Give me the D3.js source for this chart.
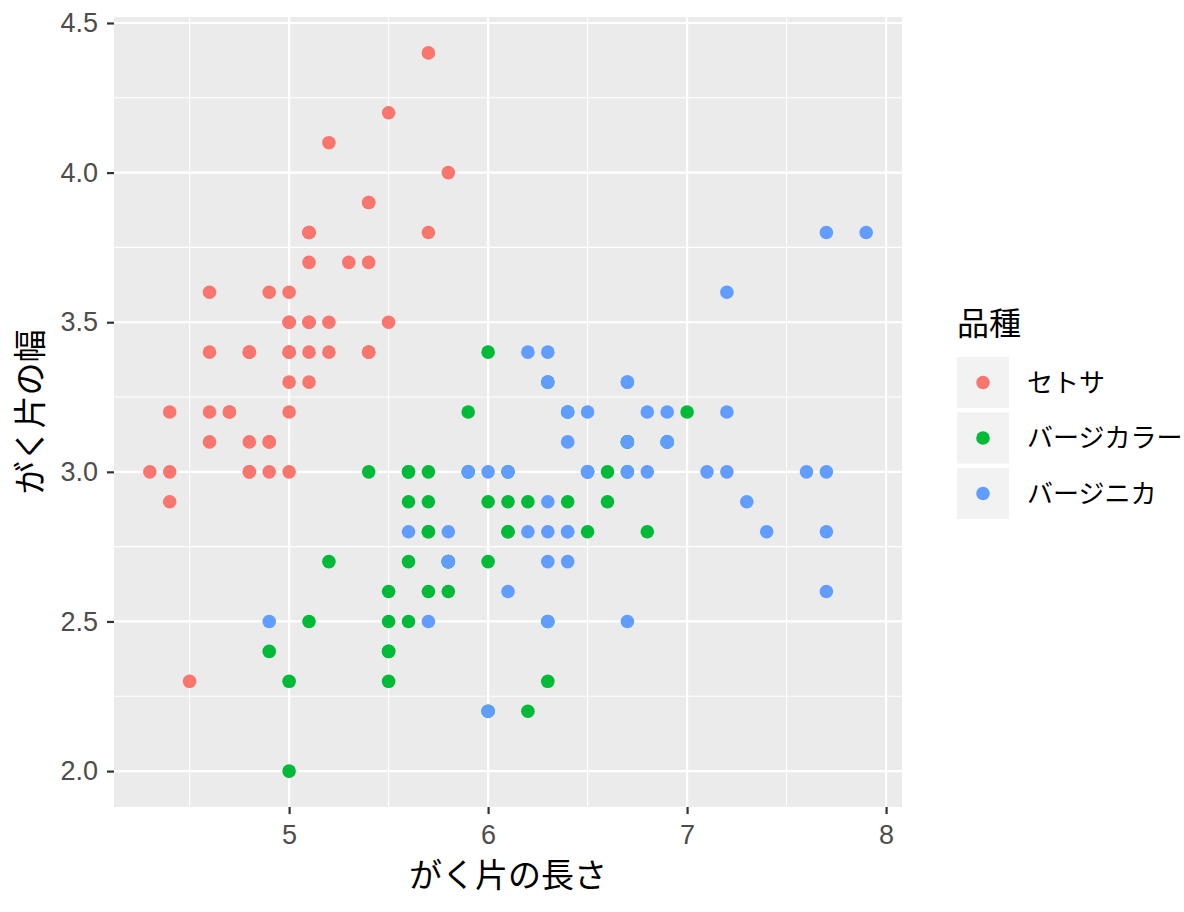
<!DOCTYPE html>
<html>
<head>
<meta charset="utf-8">
<script src="https://cdn.jsdelivr.net/npm/d3@7"></script>
<style>
  body { margin: 0; background: #fff; }
  svg { display: block; font-family: "Liberation Sans", "Noto Sans CJK JP", sans-serif; }
</style>
</head>
<body>
<div id="chart"></div>
<script>
// iris: sepal length / sepal width per species
const species = ["セトサ", "バージカラー", "バージニカ"]
const colors = ["#F8766D", "#00BA38", "#619CFF"]

const setosaLen = [5.1,4.9,4.7,4.6,5.0,5.4,4.6,5.0,4.4,4.9,5.4,4.8,4.8,4.3,5.8,5.7,5.4,5.1,5.7,5.1,5.4,5.1,4.6,5.1,4.8,5.0,5.0,5.2,5.2,4.7,4.8,5.4,5.2,5.5,4.9,5.0,5.5,4.9,4.4,5.1,5.0,4.5,4.4,5.0,5.1,4.8,5.1,4.6,5.3,5.0]
const setosaWid = [3.5,3.0,3.2,3.1,3.6,3.9,3.4,3.4,2.9,3.1,3.7,3.4,3.0,3.0,4.0,4.4,3.9,3.5,3.8,3.8,3.4,3.7,3.6,3.3,3.4,3.0,3.4,3.5,3.4,3.2,3.1,3.4,4.1,4.2,3.1,3.2,3.5,3.6,3.0,3.4,3.5,2.3,3.2,3.5,3.8,3.0,3.8,3.2,3.7,3.3]
const versiLen = [7.0,6.4,6.9,5.5,6.5,5.7,6.3,4.9,6.6,5.2,5.0,5.9,6.0,6.1,5.6,6.7,5.6,5.8,6.2,5.6,5.9,6.1,6.3,6.1,6.4,6.6,6.8,6.7,6.0,5.7,5.5,5.5,5.8,6.0,5.4,6.0,6.7,6.3,5.6,5.5,5.5,6.1,5.8,5.0,5.6,5.7,5.7,6.2,5.1,5.7]
const versiWid = [3.2,3.2,3.1,2.3,2.8,2.8,3.3,2.4,2.9,2.7,2.0,3.0,2.2,2.9,2.9,3.1,3.0,2.7,2.2,2.5,3.2,2.8,2.5,2.8,2.9,3.0,2.8,3.0,2.9,2.6,2.4,2.4,2.7,2.7,3.0,3.4,3.1,2.3,3.0,2.5,2.6,3.0,2.6,2.3,2.7,3.0,2.9,2.9,2.5,2.8]
const virgLen = [6.3,5.8,7.1,6.3,6.5,7.6,4.9,7.3,6.7,7.2,6.5,6.4,6.8,5.7,5.8,6.4,6.5,7.7,7.7,6.0,6.9,5.6,7.7,6.3,6.7,7.2,6.2,6.1,6.4,7.2,7.4,7.9,6.4,6.3,6.1,7.7,6.3,6.4,6.0,6.9,6.7,6.9,5.8,6.8,6.7,6.7,6.3,6.5,6.2,5.9]
const virgWid = [3.3,2.7,3.0,2.9,3.0,3.0,2.5,2.9,2.5,3.6,3.2,2.7,3.0,2.5,2.8,3.2,3.0,3.8,2.6,2.2,3.2,2.8,2.8,2.7,3.3,3.2,2.8,3.0,2.8,3.0,2.8,3.8,2.8,2.8,2.6,3.0,3.4,3.1,3.0,3.1,3.1,3.1,2.7,3.2,3.3,3.0,2.5,3.0,3.4,3.0]

const xTicks = [5, 6, 7, 8]
const yTicks = [2.0, 2.5, 3.0, 3.5, 4.0, 4.5]
const xMinor = [4.5, 5.5, 6.5, 7.5]
const yMinor = [2.25, 2.75, 3.25, 3.75, 4.25]

const W = 1184, H = 912
const panel = {left: 114, right: 902, top: 17, bottom: 807}

const rows = []
;[[setosaLen, setosaWid], [versiLen, versiWid], [virgLen, virgWid]].forEach(([len, wid], s) => {
  len.forEach((v, i) => rows.push({x: v, y: wid[i], s}))
})

const xExt = d3.extent(rows, d => d.x), yExt = d3.extent(rows, d => d.y)
const xPad = (xExt[1] - xExt[0]) * 0.05, yPad = (yExt[1] - yExt[0]) * 0.05
const x = d3.scaleLinear().domain([xExt[0] - xPad, xExt[1] + xPad]).range([panel.left, panel.right])
const y = d3.scaleLinear().domain([yExt[0] - yPad, yExt[1] + yPad]).range([panel.bottom, panel.top])
const color = d3.scaleOrdinal(d3.range(3), colors)

const svg = d3.select("#chart").append("svg").attr("width", W).attr("height", H)

svg.append("rect")
    .attr("x", panel.left).attr("y", panel.top)
    .attr("width", panel.right - panel.left).attr("height", panel.bottom - panel.top)
    .attr("fill", "#EBEBEB")

const grid = svg.append("g").attr("stroke", "#fff")
grid.selectAll("line.xmin").data(xMinor).join("line")
    .attr("x1", d => x(d)).attr("x2", d => x(d)).attr("y1", panel.top).attr("y2", panel.bottom)
    .attr("stroke-width", 1.1)
grid.selectAll("line.ymin").data(yMinor).join("line")
    .attr("y1", d => y(d)).attr("y2", d => y(d)).attr("x1", panel.left).attr("x2", panel.right)
    .attr("stroke-width", 1.1)
grid.selectAll("line.xmaj").data(xTicks).join("line")
    .attr("x1", d => x(d)).attr("x2", d => x(d)).attr("y1", panel.top).attr("y2", panel.bottom)
    .attr("stroke-width", 2.2)
grid.selectAll("line.ymaj").data(yTicks).join("line")
    .attr("y1", d => y(d)).attr("y2", d => y(d)).attr("x1", panel.left).attr("x2", panel.right)
    .attr("stroke-width", 2.2)

svg.append("g")
  .selectAll("circle")
  .data(rows)
  .join("circle")
    .attr("cx", d => x(d.x))
    .attr("cy", d => y(d.y))
    .attr("r", 6.8)
    .attr("fill", d => color(d.s))

// axes
const xAxis = svg.append("g")
    .attr("transform", `translate(0,${panel.bottom})`)
    .call(d3.axisBottom(x).tickValues(xTicks).tickFormat(d3.format("d")).tickSize(7).tickPadding(11))
const yAxis = svg.append("g")
    .attr("transform", `translate(${panel.left},0)`)
    .call(d3.axisLeft(y).tickValues(yTicks).tickFormat(d3.format(".1f")).tickSize(7).tickPadding(9))
;[xAxis, yAxis].forEach(g => {
  g.attr("font-size", 27).attr("font-family", "Liberation Sans, sans-serif")
  g.select(".domain").remove()
  g.selectAll(".tick line").attr("stroke", "#333").attr("stroke-width", 2.2)
  g.selectAll(".tick text").attr("fill", "#4D4D4D")
})

svg.append("text")
    .attr("x", (panel.left + panel.right) / 2).attr("y", 887)
    .attr("text-anchor", "middle")
    .attr("font-family", "Noto Sans CJK JP")
    .attr("font-size", 33)
    .text("がく片の長さ")

svg.append("text")
    .attr("transform", `translate(42,${(panel.top + panel.bottom) / 2}) rotate(-90)`)
    .attr("text-anchor", "middle")
    .attr("font-family", "Noto Sans CJK JP")
    .attr("font-size", 33)
    .text("がく片の幅")

// legend
const legend = svg.append("g").attr("transform", "translate(957,0)")
legend.append("text")
    .attr("x", 0).attr("y", 335)
    .attr("font-family", "Noto Sans CJK JP")
    .attr("font-size", 32)
    .text("品種")
const item = legend.selectAll("g.item")
  .data(species)
  .join("g")
    .attr("transform", (d, i) => `translate(0,${357 + i * 55.5})`)
item.append("rect")
    .attr("width", 52).attr("height", 51)
    .attr("fill", "#F2F2F2")
item.append("circle")
    .attr("cx", 26).attr("cy", 25.5).attr("r", 6.8)
    .attr("fill", (d, i) => color(i))
item.append("text")
    .attr("x", 70).attr("y", 25.5).attr("dy", "0.36em")
    .attr("font-family", "Noto Sans CJK JP")
    .attr("font-size", 26)
    .text(d => d)
</script>
</body>
</html>
